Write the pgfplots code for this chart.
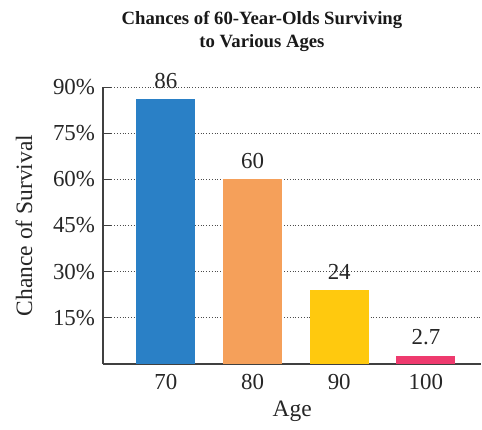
\documentclass[border={4.5pt 0.5pt 0pt 2.2pt}]{standalone}
\usepackage{pgfplots}
\pgfplotsset{compat=1.18}
\usepackage{fontspec}
\setmainfont{Liberation Serif}
\definecolor{cblue}{HTML}{2A80C6}
\definecolor{corange}{HTML}{F5A05A}
\definecolor{cyellow}{HTML}{FFC90E}
\definecolor{cpink}{HTML}{EE3A6E}
\begin{document}
\begin{tikzpicture}
\begin{axis}[
  scale only axis,
  width=190pt, height=139pt,
  ybar, bar width=0.68,
  bar shift=0pt,
  xmin=-0.724, xmax=3.64,
  ymin=0, ymax=90,
  axis x line=bottom, axis y line=left,
  axis line style={-, line width=0.6pt, black!75},
  xtick={0,1,2,3},
  xticklabels={70,80,90,100},
  xtick style={draw=none},
  ytick={15,30,45,60,75,90},
  yticklabel={\pgfmathprintnumber{\tick}\%},
  tick align=inside,
  major tick length=4pt,
  ytick style={black!75, line width=0.5pt},
  ymajorgrids,
  grid style={densely dotted, black!70, line width=0.4pt},
  /pgf/number format/assume math mode=true,
  tick label style={font=\fontsize{11.5}{14}\selectfont, black!85},
  yticklabel style={xshift=-0.5pt},
  xticklabel style={yshift=-1.5pt},
  xlabel={Age},
  ylabel={Chance of Survival},
  label style={font=\fontsize{11.8}{14}\selectfont, black!85},
  xlabel style={yshift=1pt},
  ylabel style={yshift=3.5pt},
  title={Chances of 60-Year-Olds Surviving\\to Various Ages},
  title style={font=\bfseries\fontsize{9.4}{11.5}\selectfont, align=center, at={(axis description cs:0.42,1)}, yshift=8.5pt, black!90},
  nodes near coords,
  every node near coord/.append style={font=\fontsize{11.5}{14}\selectfont, black!85, yshift=1.8pt},
  enlarge x limits=false,
]
\addplot[fill=cblue, draw=none] coordinates {(0,86)};
\addplot[fill=corange, draw=none] coordinates {(1,60)};
\addplot[fill=cyellow, draw=none] coordinates {(2,24)};
\addplot[fill=cpink, draw=none] coordinates {(3,2.7)};
\end{axis}
\end{tikzpicture}
\end{document}
